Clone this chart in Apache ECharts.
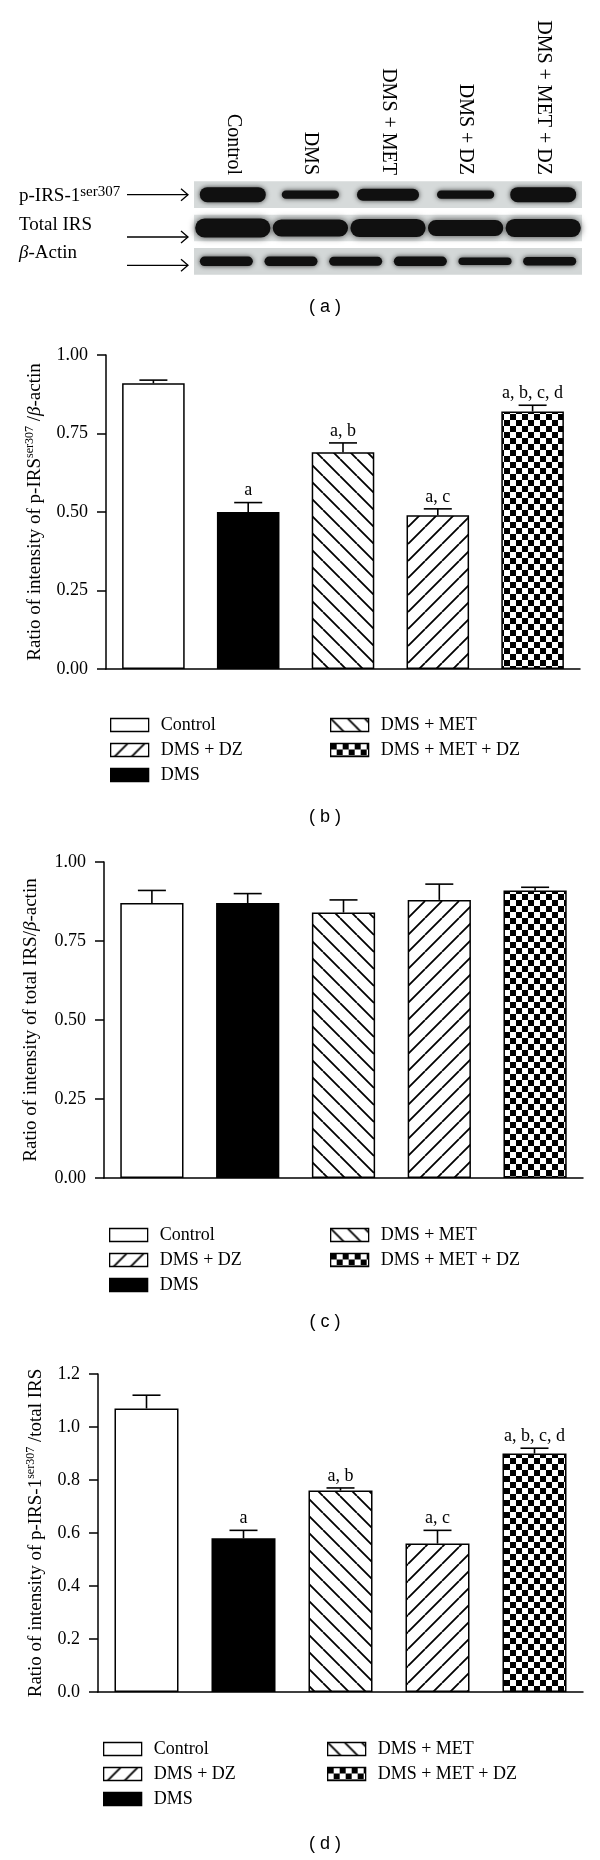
<!DOCTYPE html>
<html><head><meta charset="utf-8">
<script src="https://cdn.jsdelivr.net/npm/echarts@6/dist/echarts.min.js"></script>
<style>html,body{margin:0;padding:0;background:#fff}#c{width:600px;height:1860px}</style>
</head><body><div id="c"></div>
<script>
// ---------- data ----------
const groups = ['Control', 'DMS', 'DMS + MET', 'DMS + DZ', 'DMS + MET + DZ'];
const legendCol1 = ['Control', 'DMS + DZ', 'DMS'];
const legendCol2 = ['DMS + MET', 'DMS + MET + DZ'];

// (b) p-IRS-1 ser307 / beta-actin
const pIrsActinMean = [0.91, 0.50, 0.69, 0.49, 0.82];
const pIrsActinErr  = [0.01, 0.03, 0.03, 0.02, 0.02];
const pIrsActinSig  = ['', 'a', 'a, b', 'a, c', 'a, b, c, d'];
// (c) total IRS / beta-actin
const totalActinMean = [0.87, 0.87, 0.84, 0.88, 0.91];
const totalActinErr  = [0.04, 0.03, 0.04, 0.05, 0.01];
const totalActinSig  = ['', '', '', '', ''];
// (d) p-IRS-1 ser307 / total IRS
const pIrsTotalMean = [1.07, 0.58, 0.76, 0.56, 0.90];
const pIrsTotalErr  = [0.05, 0.03, 0.01, 0.05, 0.02];
const pIrsTotalSig  = ['', 'a', 'a, b', 'a, c', 'a, b, c, d'];

// axis ranges
const axisB = {max: 1.0, step: 0.25, digits: 2};
const axisC = {max: 1.0, step: 0.25, digits: 2};
const axisD = {max: 1.2, step: 0.2, digits: 1};

// (a) western blot: relative band intensities
const blotRows = ['p-IRS-1', 'Total IRS', 'β-Actin'];
const bandPIrs  = [1.0, 0.55, 0.8, 0.55, 1.0];
const bandTotal = [1.0, 0.9, 0.95, 0.85, 0.95];
const actinLanes = ['1', '2', '3', '4', '5', '6'];
const bandActin = [0.95, 0.95, 0.9, 0.95, 0.75, 0.85];

// ---------- styles ----------
const SERIF = '"Liberation Serif", "Times New Roman", serif';
function hatch(dir) {
  const s = 17, c = document.createElement('canvas'); c.width = s; c.height = s;
  const g = c.getContext('2d'); g.fillStyle = '#fff'; g.fillRect(0, 0, s, s);
  g.strokeStyle = '#000'; g.lineWidth = 1.8; g.beginPath();
  for (const o of [-s, 0, s]) {
    if (dir > 0) { g.moveTo(o, 0); g.lineTo(o + s, s); }
    else { g.moveTo(o, s); g.lineTo(o + s, 0); }
  }
  g.stroke(); return c;
}
function checker() {
  const s = 12, h = 6, c = document.createElement('canvas'); c.width = s; c.height = s;
  const g = c.getContext('2d'); g.fillStyle = '#fff'; g.fillRect(0, 0, s, s);
  g.fillStyle = '#000'; g.fillRect(0, 0, h, h); g.fillRect(h, h, h, h); return c;
}
const fills = [
  '#ffffff',
  '#000000',
  {image: hatch(1), repeat: 'repeat'},
  {image: hatch(-1), repeat: 'repeat'},
  {image: checker(), repeat: 'repeat'}
];

const grids = [
  {left: 194, right: 18, top: 178, height: 100},
  {left: 106, right: 20, top: 355, height: 314},
  {left: 104, right: 17, top: 862, height: 316},
  {left: 98, right: 17, top: 1374, height: 318}
];

const xAxes = [
  {gridIndex: 0, type: 'category', data: groups, position: 'top',
   axisLine: {show: false}, axisTick: {show: false},
   axisLabel: {rotate: 90, interval: 0, margin: 3, fontFamily: SERIF, fontSize: 20, color: '#000', hideOverlap: false}},
  {gridIndex: 0, type: 'category', data: actinLanes, show: false}
];
const yAxes = [
  {gridIndex: 0, type: 'category', data: blotRows, inverse: true, show: false}
];

const nameRich = {
  s: {fontSize: 12, lineHeight: 12, verticalAlign: 'top', fontFamily: SERIF, color: '#000'},
  i: {fontStyle: 'italic', fontSize: 19, lineHeight: 22, fontFamily: SERIF, color: '#000'}
};
const panels = [
  {mean: pIrsActinMean, err: pIrsActinErr, sig: pIrsActinSig, ax: axisB, nameGap: 57,
   name: 'Ratio of intensity of p-IRS{s|ser307} /{i|β}-actin', legendTop: 711, col1: 105, col2: 325},
  {mean: totalActinMean, err: totalActinErr, sig: totalActinSig, ax: axisC, nameGap: 62,
   name: 'Ratio of intensity of total IRS/{i|β}-actin', legendTop: 1221, col1: 104, col2: 325},
  {mean: pIrsTotalMean, err: pIrsTotalErr, sig: pIrsTotalSig, ax: axisD, nameGap: 50,
   name: 'Ratio of intensity of p-IRS-1{s|ser307} /total IRS', legendTop: 1735, col1: 98, col2: 322}
];

const series = [];
const legends = [];

// ---------- blot ----------
series.push({
  type: 'custom', xAxisIndex: 0, yAxisIndex: 0, silent: true, z: 1,
  data: blotRows.map((r, i) => [0, i]),
  renderItem(params, api) {
    const cs = params.coordSys;
    const row = api.value(1);
    const cy = api.coord([0, row])[1];
    const bh = api.size([0, 1])[1] * 0.8;
    const labelDy = [1, -3, -8][row];
    const arrowDy = [0, 9, 4][row];
    const bg = ['#d6dada', '#dee2e2', '#d3d7d7'][row];
    const ay = cy + arrowDy;
    const x1 = cs.x - 67, x2 = cs.x - 6;
    const label = row === 0 ? '{m|p-IRS-1}{s|ser307}' : (row === 2 ? '{i|β}{m|-Actin}' : '{m|' + blotRows[row] + '}');
    return {type: 'group', children: [
      {type: 'rect', shape: {x: cs.x, y: cy - bh / 2, width: cs.width, height: bh}, style: {fill: bg}},
      {type: 'line', shape: {x1: x1, y1: ay, x2: x2, y2: ay}, style: {stroke: '#000', lineWidth: 1.3}},
      {type: 'polyline', shape: {points: [[x2 - 7, ay - 6], [x2, ay], [x2 - 7, ay + 6]]}, style: {stroke: '#000', lineWidth: 1.3, fill: 'none'}},
      {type: 'text', style: {text: label, x: cs.x - 175, y: cy + labelDy, align: 'left', verticalAlign: 'middle',
        rich: {m: {fontFamily: SERIF, fontSize: 19, lineHeight: 22, fill: '#000'},
               i: {fontFamily: SERIF, fontSize: 19, lineHeight: 22, fontStyle: 'italic', fill: '#000'},
               s: {fontFamily: SERIF, fontSize: 15, lineHeight: 14, verticalAlign: 'top', fill: '#000'}}}}
    ]};
  }
});
function bandSeries(xIdx, row, vals, wBase, wScale, thick, blur) {
  return {
    type: 'custom', xAxisIndex: xIdx, yAxisIndex: 0, silent: true, z: 2,
    data: vals.map((v, i) => [i, row, v]),
    renderItem(params, api) {
      const v = api.value(2);
      const p = api.coord([api.value(0), api.value(1)]);
      const lw = api.size([1, 0])[0] * (wBase + wScale * v);
      const h = thick * v;
      return {type: 'rect', shape: {x: p[0] - lw / 2, y: p[1] - h / 2, width: lw, height: h, r: h / 2},
        style: {fill: '#101010', shadowBlur: blur, shadowColor: 'rgba(0,0,0,0.75)'}};
    }
  };
}
series.push(bandSeries(0, 0, bandPIrs, 0.6, 0.25, 15, 5));
series.push(bandSeries(0, 1, bandTotal, 0.97, 0, 19, 7));
series.push(bandSeries(1, 2, bandActin, 0.82, 0, 10, 5));

// ---------- bar panels ----------
panels.forEach((pn, k) => {
  const gi = k + 1;          // grid / yAxis index
  const xi = k + 2;          // xAxis index (two blot x axes come first)
  xAxes.push({gridIndex: gi, type: 'category', data: groups,
    axisLine: {show: true, lineStyle: {color: '#000', width: 1.5}},
    axisTick: {show: false}, axisLabel: {show: false}});
  yAxes.push({gridIndex: gi, type: 'value', min: 0, max: pn.ax.max, interval: pn.ax.step,
    axisLine: {show: true, lineStyle: {color: '#000', width: 1.5}},
    axisTick: {show: true, length: 9, lineStyle: {color: '#000', width: 1.5}},
    splitLine: {show: false},
    axisLabel: {margin: 18, fontFamily: SERIF, fontSize: 18, color: '#000',
      formatter: v => v.toFixed(pn.ax.digits)},
    name: pn.name, nameLocation: 'middle', nameGap: pn.nameGap,
    nameTextStyle: {fontFamily: SERIF, fontSize: 19, lineHeight: 22, color: '#000', rich: nameRich}});
  groups.forEach((gname, i) => {
    series.push({type: 'bar', name: gname, xAxisIndex: xi, yAxisIndex: gi,
      data: groups.map((_, j) => j === i ? pn.mean[j] : '-'),
      barWidth: '66%', barGap: '-100%', silent: true, z: 2,
      itemStyle: {color: fills[i], borderColor: '#000', borderWidth: 1.5}});
  });
  const sig = pn.sig;
  series.push({type: 'custom', xAxisIndex: xi, yAxisIndex: gi, silent: true, z: 3,
    data: groups.map((_, j) => [j, pn.mean[j], pn.err[j]]),
    renderItem(params, api) {
      const x = api.value(0), m = api.value(1), e = api.value(2);
      const a = api.coord([x, m]), b = api.coord([x, m + e]);
      const half = 14;
      const ch = [
        {type: 'line', shape: {x1: a[0], y1: a[1], x2: b[0], y2: b[1]}, style: {stroke: '#000', lineWidth: 1.6}},
        {type: 'line', shape: {x1: b[0] - half, y1: b[1], x2: b[0] + half, y2: b[1]}, style: {stroke: '#000', lineWidth: 1.6}}
      ];
      const t = sig[params.dataIndex];
      if (t) ch.push({type: 'text', style: {text: t, x: b[0], y: b[1] - 3, align: 'center', verticalAlign: 'bottom',
        fontFamily: SERIF, fontSize: 18, fill: '#000'}});
      return {type: 'group', children: ch};
    }});
  const lg = {orient: 'vertical', top: pn.legendTop, itemWidth: 38, itemHeight: 13, itemGap: 7,
    icon: 'rect', selectedMode: false,
    itemStyle: {borderColor: '#000', borderWidth: 1.3},
    textStyle: {fontFamily: SERIF, fontSize: 18, color: '#000', padding: [0, 0, 0, 7]}};
  legends.push(Object.assign({}, lg, {left: pn.col1, data: legendCol1}));
  legends.push(Object.assign({}, lg, {left: pn.col2, data: legendCol2}));
});

const captions = [['( a )', 307], ['( b )', 817], ['( c )', 1322], ['( d )', 1844]];
const graphic = captions.map(c => ({type: 'text', x: 325, y: c[1], silent: true,
  style: {text: c[0], align: 'center', verticalAlign: 'middle', fontFamily: '"Liberation Sans", Arial, sans-serif', fontSize: 18, fill: '#000'}}));

const chart = echarts.init(document.getElementById('c'), null, {renderer: 'canvas', width: 600, height: 1860});
chart.setOption({
  backgroundColor: '#fff',
  animation: false,
  grid: grids,
  xAxis: xAxes,
  yAxis: yAxes,
  legend: legends,
  graphic: graphic,
  series: series
});
</script></body></html>
